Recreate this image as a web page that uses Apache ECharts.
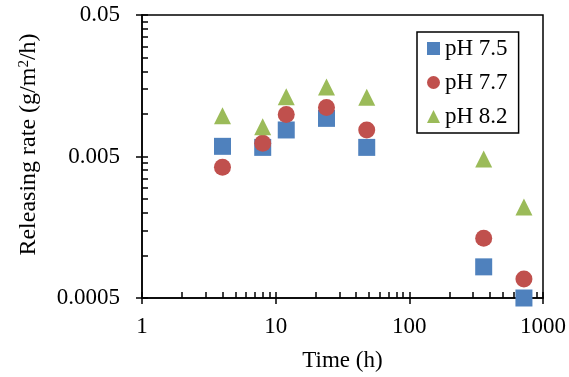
<!DOCTYPE html>
<html>
<head>
<meta charset="utf-8">
<script src="https://cdn.jsdelivr.net/npm/echarts@6/dist/echarts.min.js"></script>
<style>
  html, body { margin: 0; padding: 0; background: #fff; }
  #chart { width: 569px; height: 377px; }
</style>
</head>
<body>
<div id="chart"></div>
<script>
const times = [4, 8, 12, 24, 48, 360, 720];
const ph75 = [0.0059, 0.0058, 0.0077, 0.0093, 0.0058, 0.00083, 0.0005];
const ph77 = [0.0042, 0.0062, 0.0099, 0.0111, 0.0077, 0.00132, 0.00068];
const ph82 = [0.0097, 0.0081, 0.0132, 0.0155, 0.0131, 0.0048, 0.0022];

const xTicks = [1, 10, 100, 1000];
const xMinor = [2, 3, 4, 5, 6, 7, 8, 9, 20, 30, 40, 50, 60, 70, 80, 90, 200, 300, 400, 500, 600, 700, 800, 900];
const yTicks = [0.0005, 0.005, 0.05];
const yMinor = [0.001, 0.0015, 0.002, 0.0025, 0.003, 0.0035, 0.004, 0.0045,
  0.01, 0.015, 0.02, 0.025, 0.03, 0.035, 0.04, 0.045];

const font = '"Liberation Serif", "Times New Roman", serif';
const black = '#000';

const toPoints = arr => arr.map((v, i) => [times[i], v]);

var myChart = echarts.init(document.getElementById('chart'));
myChart.setOption({
  animation: false,
  textStyle: { fontFamily: font, color: black },
  grid: {
    left: 142, right: 26, top: 15, bottom: 79,
    show: true, borderColor: black, borderWidth: 1.5, backgroundColor: 'transparent'
  },
  legend: {
    orient: 'vertical',
    left: 417, top: 32,
    padding: [5, 11, 5, 10],
    itemGap: 11,
    itemWidth: 13, itemHeight: 13,
    borderColor: black, borderWidth: 1.5, borderRadius: 0,
    textStyle: { fontFamily: font, fontSize: 23, color: black },
    data: ['pH 7.5', 'pH 7.7', 'pH 8.2']
  },
  xAxis: [
    {
      type: 'log', logBase: 10, min: 1, max: 1000,
      name: 'Time (h)', nameLocation: 'middle', nameGap: 51,
      nameTextStyle: { fontFamily: font, fontSize: 23, color: black },
      axisLine: { lineStyle: { color: black, width: 1.5 } },
      axisTick: { inside: false, length: 6, customValues: xTicks, lineStyle: { color: black, width: 1.5 } },
      axisLabel: {
        customValues: xTicks, fontFamily: font, fontSize: 23, color: black, margin: 17,
        formatter: v => String(v)
      },
      splitLine: { show: false }
    },
    {
      // minor ticks, moved down onto the bottom edge, pointing up into the plot
      type: 'log', logBase: 10, min: 1, max: 1000,
      position: 'top', offset: -283,
      axisLine: { show: false },
      axisTick: { inside: false, length: 6, customValues: xTicks.concat(xMinor), lineStyle: { color: black, width: 1.5 } },
      axisLabel: { show: false },
      splitLine: { show: false }
    }
  ],
  yAxis: [
    {
      type: 'log', logBase: 10, min: 0.0005, max: 0.05,
      name: '{a|Releasing rate (g/m}{s|2}{a|/h)}', nameLocation: 'middle', nameGap: 101,
      nameTextStyle: {
        fontFamily: font, fontSize: 24, color: black, padding: [0, 0, 0, 24],
        rich: {
          a: { fontFamily: font, fontSize: 24, color: black },
          s: { fontFamily: font, fontSize: 15, color: black, verticalAlign: 'top', padding: [0, 0, 6, 0] }
        }
      },
      axisLine: { lineStyle: { color: black, width: 1.5 } },
      axisTick: { inside: false, length: 6, customValues: yTicks, lineStyle: { color: black, width: 1.5 } },
      axisLabel: {
        customValues: yTicks, fontFamily: font, fontSize: 23, color: black, margin: 22,
        formatter: v => String(v)
      },
      splitLine: { show: false }
    },
    {
      // minor ticks, moved onto the left edge, pointing right into the plot
      type: 'log', logBase: 10, min: 0.0005, max: 0.05,
      position: 'right', offset: -401,
      axisLine: { show: false },
      axisTick: { inside: false, length: 6, customValues: yTicks.concat(yMinor), lineStyle: { color: black, width: 1.5 } },
      axisLabel: { show: false },
      splitLine: { show: false }
    }
  ],
  series: [
    {
      name: 'pH 7.5', type: 'scatter', symbol: 'rect', symbolSize: 17,
      itemStyle: { color: '#4F81BD', opacity: 1 }, data: toPoints(ph75)
    },
    {
      name: 'pH 7.7', type: 'scatter', symbol: 'circle', symbolSize: 17,
      itemStyle: { color: '#C0504D', opacity: 1 }, data: toPoints(ph77)
    },
    {
      name: 'pH 8.2', type: 'scatter', symbol: 'triangle', symbolSize: 17,
      itemStyle: { color: '#9BBB59', opacity: 1 }, data: toPoints(ph82)
    }
  ]
});
</script>
</body>
</html>
